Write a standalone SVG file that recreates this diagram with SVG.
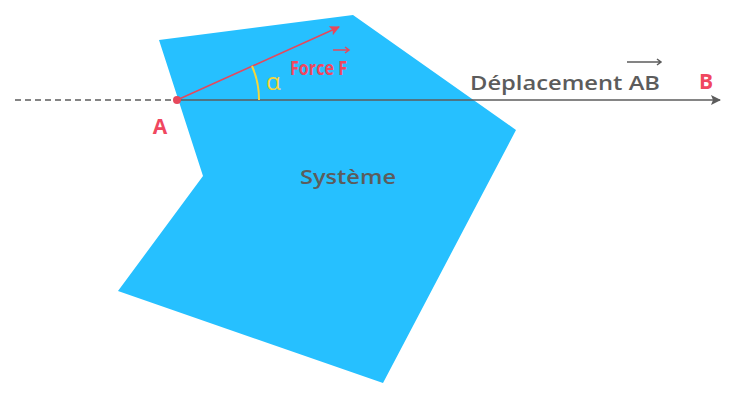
<svg xmlns="http://www.w3.org/2000/svg" width="737" height="406" viewBox="0 0 737 406">
<style>
text{font-family:"Open Sans",Lato,sans-serif;font-weight:600}
.g{fill:#5c5c5c}.r{fill:#f0475f;font-weight:700}
</style>
<defs>
<marker id="ag" markerWidth="10" markerHeight="10" refX="9" refY="5" orient="auto" markerUnits="userSpaceOnUse"><path d="M0,0 L10,5 L0,10 L2,5Z" fill="#5c5c5c"/></marker>
<marker id="ar" markerWidth="10" markerHeight="10" refX="9" refY="5" orient="auto" markerUnits="userSpaceOnUse"><path d="M0,0 L10,5 L0,10 L2,5Z" fill="#e6485c"/></marker>
</defs>
<g id="systeme">
<polygon points="159,40 353,15 516,130 383,383 118,291 203,176" fill="#26c0ff"/>
<text x="300" y="184" class="g" font-size="20" textLength="96" lengthAdjust="spacingAndGlyphs">Système</text>
</g>
<g id="connectors">
<line x1="15" y1="100" x2="177" y2="100" stroke="#5c5c5c" stroke-width="1.5" stroke-dasharray="6,4"/>
<line x1="177" y1="100" x2="720" y2="100" stroke="#5c5c5c" stroke-width="1.5" marker-end="url(#ag)"/>
<line x1="177" y1="100" x2="339" y2="27" stroke="#e6485c" stroke-width="1.5" marker-end="url(#ar)"/>
<path d="M252,66 A82,82 0 0 1 259,100" fill="none" stroke="#f5d63a" stroke-width="2"/>
</g>
<g id="labels">
<circle cx="177" cy="100" r="4" fill="#e6485c"/>
<text x="160" y="134" class="r" font-size="21" text-anchor="middle">A</text>
<text x="706" y="89" class="r" font-size="21" text-anchor="middle">B</text>
<text x="266" y="90" fill="#f5d63a" font-size="24" style="font-weight:400">α</text>
<text x="290" y="75" class="r" font-size="20" textLength="57" lengthAdjust="spacingAndGlyphs">Force F</text>
<path d="M333,50 H349 M345,47 L349,50 L345,53" stroke="#e6485c" stroke-width="1.5" fill="none"/>
<text x="470" y="90" class="g" font-size="20" textLength="190" lengthAdjust="spacingAndGlyphs">Déplacement AB</text>
<path d="M627,62 H661 M657,59 L661,62 L657,65" stroke="#5c5c5c" stroke-width="1.5" fill="none"/>
</g>
</svg>
